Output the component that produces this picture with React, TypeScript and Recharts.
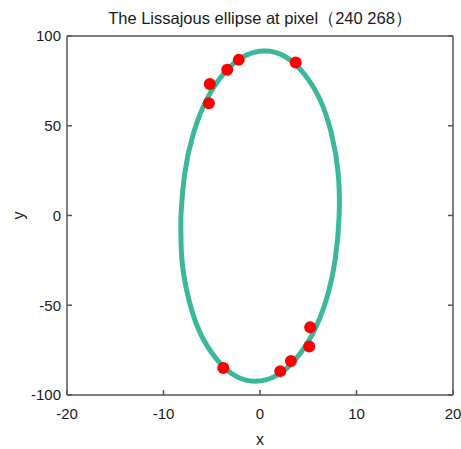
import React from "react";
import { ComposedChart, Line, Scatter, XAxis, YAxis, Label } from "recharts";

// axis ticks
const xTicks = [-20, -10, 0, 10, 20];
const yTicks = [-100, -50, 0, 50, 100];

// ellipse outline (starts and ends at the left side)
const ellipseX = [
  -8.2, -8.1, -7.4, -6.2, -4.5, -2.6, -0.5, 1.7, 3.7, 5.5, 6.9, 7.8,
  8.2, 8.1, 7.4, 6.2, 4.5, 2.6, 0.5, -1.7, -3.7, -5.5, -6.9, -7.8, -8.2,
];
const ellipseY = [
  -0.3, -24.1, -46.3, -65.4, -80.0, -89.2, -92.3, -89.2, -80.0, -65.4, -46.3, -24.1,
  -0.3, 23.5, 45.7, 64.8, 79.4, 88.6, 91.7, 88.6, 79.4, 64.8, 45.7, 23.5, -0.3,
];

// red sample points
const dotX = [-5.2, -5.3, -3.4, -2.2, 3.7, -3.8, 2.1, 3.2, 5.1, 5.2];
const dotY = [73.2, 62.6, 81.2, 86.7, 85.2, -85.0, -86.7, -81.1, -73.0, -62.2];

const ellipse = ellipseX.map((x, i) => ({ x, y: ellipseY[i] }));
const dots = dotX.map((x, i) => ({ x, y: dotY[i] }));

const axisColor = "#555";
const tickStyle = { fill: "#1a1a1a", fontSize: 15 };

const RedDot = (props: any) => (
  <circle cx={props.cx} cy={props.cy} r={6} fill="#ff0000" />
);

export default function App() {
  return (
    <div
      style={{
        position: "absolute",
        left: 0,
        top: 0,
        width: 461,
        height: 449,
        background: "#fff",
        fontFamily: "'Liberation Sans', Arial, sans-serif",
      }}
    >
      <div
        style={{
          position: "absolute",
          left: 67,
          width: 386,
          top: 8,
          lineHeight: "20px",
          fontSize: 16.5,
          textAlign: "center",
          color: "#1a1a1a",
        }}
      >
        The Lissajous ellipse at pixel（240 268）
      </div>
      <ComposedChart
        width={461}
        height={449}
        margin={{ top: 35, right: 7, bottom: 0, left: 7 }}
      >
        <XAxis
          dataKey="x"
          type="number"
          domain={[-20, 20]}
          ticks={xTicks}
          allowDataOverflow
          height={54}
          tickSize={-5}
          tickMargin={18}
          tick={tickStyle}
          stroke={axisColor}
          strokeWidth={1.5}
        >
          <Label value="x" position="center" dy={17} fontSize={16} fill="#1a1a1a" />
        </XAxis>
        <XAxis
          xAxisId="top"
          orientation="top"
          type="number"
          domain={[-20, 20]}
          ticks={xTicks}
          allowDataOverflow
          height={1}
          tickSize={-5}
          tickFormatter={() => ""}
          stroke={axisColor}
          strokeWidth={1.5}
        />
        <YAxis
          dataKey="y"
          type="number"
          domain={[-100, 100]}
          ticks={yTicks}
          allowDataOverflow
          width={60}
          tickSize={-5}
          tickMargin={11}
          tick={tickStyle}
          stroke={axisColor}
          strokeWidth={1.5}
        >
          <Label value="y" position="center" angle={-90} dx={-19} fontSize={16} fill="#1a1a1a" />
        </YAxis>
        <YAxis
          yAxisId="right"
          orientation="right"
          type="number"
          domain={[-100, 100]}
          ticks={yTicks}
          allowDataOverflow
          width={1}
          tickSize={-5}
          tickFormatter={() => ""}
          stroke={axisColor}
          strokeWidth={1.5}
        />
        <Line
          data={ellipse}
          dataKey="y"
          type="natural"
          stroke="#3bb89b"
          strokeWidth={5}
          dot={false}
          activeDot={false}
          isAnimationActive={false}
        />
        <Scatter
          data={dots}
          dataKey="y"
          shape={RedDot}
          isAnimationActive={false}
        />
      </ComposedChart>
    </div>
  );
}
